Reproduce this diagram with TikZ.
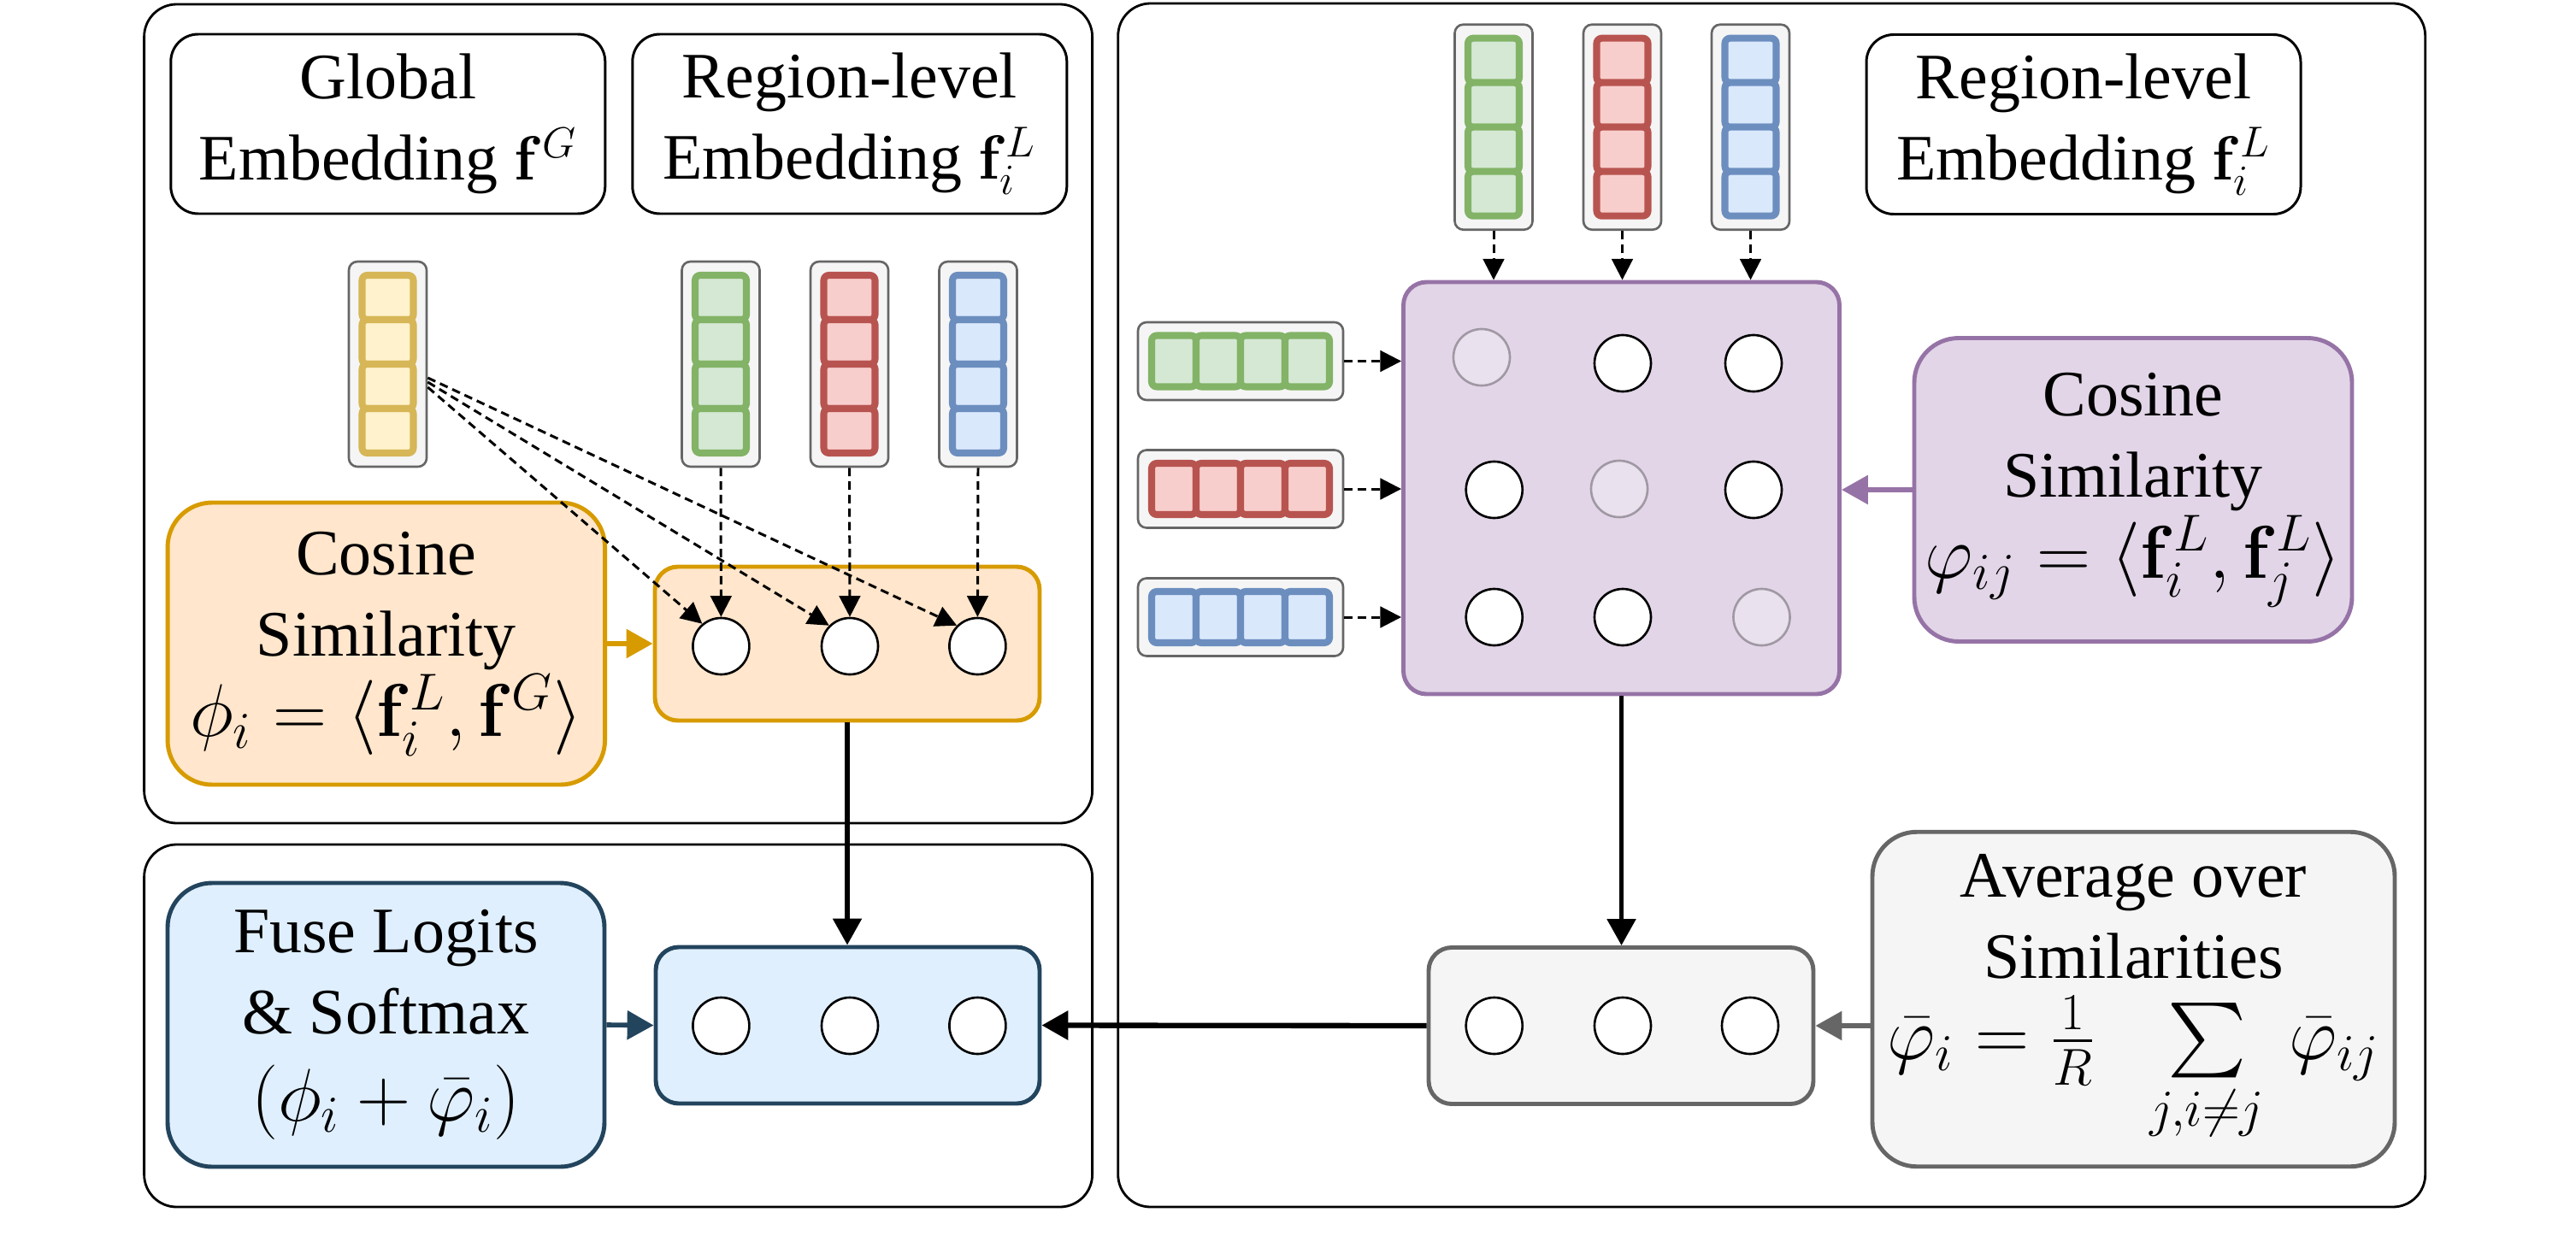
\documentclass[tikz,border=0pt]{standalone}
\usepackage[no-math]{fontspec}
\setmainfont{Liberation Serif}
\usepackage{amsmath}
\usetikzlibrary{arrows.meta,calc}

\definecolor{orfill}{HTML}{FFE6CC}
\definecolor{orline}{HTML}{D79B00}
\definecolor{pufill}{HTML}{E1D5E7}
\definecolor{puline}{HTML}{9673A6}
\definecolor{grfill}{HTML}{F5F5F5}
\definecolor{grline}{HTML}{666666}
\definecolor{bufill}{HTML}{DFEFFE}
\definecolor{buline}{HTML}{23445D}
\definecolor{yfill}{HTML}{FFF2CC}
\definecolor{yline}{HTML}{D6B656}
\definecolor{gfill}{HTML}{D5E8D4}
\definecolor{gline}{HTML}{82B366}
\definecolor{rfill}{HTML}{F8CECC}
\definecolor{rline}{HTML}{B85450}
\definecolor{bfill}{HTML}{DAE8FC}
\definecolor{bline}{HTML}{6C8EBF}
\newcommand{\mbig}{\fontsize{24.2}{27}\selectfont}

\begin{document}
\begin{tikzpicture}[font=\fontsize{21.6}{27}\selectfont, line join=round,
    >={Triangle[length=8.8pt,width=9.4pt]}]
	\tikzset{panel/.style={draw, line width=0.8pt, rounded corners=0.38cm, inner sep=0},
		lbl/.style={draw, line width=0.85pt, rounded corners=0.32cm, align=center, inner sep=0,
			minimum width=5.08cm, minimum height=2.1cm},
		bigbox/.style={line width=1.4pt, rounded corners=0.52cm, align=center, inner sep=0},
		holder/.style={line width=1.4pt, rounded corners=0.27cm, inner sep=0},
		vbg/.style={draw=grline, fill=grfill, line width=0.75pt, rounded corners=0.1cm, inner sep=0},
		cell/.style={line width=2.3pt, rounded corners=0.06cm, inner sep=0},
		circ/.style={circle, draw, fill=white, line width=0.75pt, minimum size=0.66cm, inner sep=0},
		fade/.style={circ, opacity=0.3},
		karr/.style={->, line width=1.5pt},
		carr/.style={->, line width=1.6pt},
		darr/.style={-{Triangle[length=7pt,width=7pt]}, line width=0.85pt, dash pattern=on 2.8pt off 1.7pt}}
	\tikzset{vcol/.pic={
			\node[vbg, minimum width=0.91cm, minimum height=2.4cm] (-bg) {};
			\foreach \k in {0,...,3}
			\node[cell, minimum width=0.6cm, minimum height=0.52cm] at (0,0.78-0.52*\k) {};}}
	\tikzset{hrow/.pic={
			\node[vbg, minimum width=2.4cm, minimum height=0.91cm] (-bg) {};
			\foreach \k in {0,...,3}
			\node[cell, minimum width=0.52cm, minimum height=0.6cm] at (-0.78+0.52*\k,0) {};}}
	\useasboundingbox (0,0) rectangle (30.13,-14.46);
	% panels
	\node[panel, minimum width=11.09cm, minimum height=9.58cm] (pTL) at (7.231,-4.84) {};
	\node[panel, minimum width=11.09cm, minimum height=4.24cm] (pBL) at (7.231,-12.0) {};
	\node[panel, minimum width=15.29cm, minimum height=14.08cm] (pR) at (20.722,-7.08) {};
	% titles
	\node[lbl] (gEmb) at (4.538,-1.45) {Global\\Embedding $\mathbf{f}^G$};
	\node[lbl] (rEmbA) at (9.938,-1.45) {Region-level\\Embedding $\mathbf{f}_i^L$};
	\node[lbl] (rEmbB) at (24.37,-1.455) {Region-level\\Embedding $\mathbf{f}_i^L$};
	% embeddings
	\pic[cell/.append style={fill=yfill,draw=yline}] (vY) at (4.535,-4.26) {vcol};
	\pic[cell/.append style={fill=gfill,draw=gline}] (vGa) at (8.43,-4.26) {vcol};
	\pic[cell/.append style={fill=rfill,draw=rline}] (vRa) at (9.935,-4.26) {vcol};
	\pic[cell/.append style={fill=bfill,draw=bline}] (vBa) at (11.44,-4.26) {vcol};
	\pic[cell/.append style={fill=gfill,draw=gline}] (vGb) at (17.47,-1.487) {vcol};
	\pic[cell/.append style={fill=rfill,draw=rline}] (vRb) at (18.975,-1.487) {vcol};
	\pic[cell/.append style={fill=bfill,draw=bline}] (vBb) at (20.475,-1.487) {vcol};
	\pic[cell/.append style={fill=gfill,draw=gline}] (hG) at (14.51,-4.225) {hrow};
	\pic[cell/.append style={fill=rfill,draw=rline}] (hR) at (14.51,-5.72) {hrow};
	\pic[cell/.append style={fill=bfill,draw=bline}] (hB) at (14.51,-7.22) {hrow};
	% similarity boxes
	\node[bigbox, draw=orline, fill=orfill, minimum width=5.115cm, minimum height=3.3cm] (cosO) at (4.518,-7.53)
	{Cosine\\Similarity\\\mbig$\phi_i = \langle \mathbf{f}_i^L, \mathbf{f}^G \rangle$};
	\node[bigbox, draw=buline, fill=bufill, minimum width=5.11cm, minimum height=3.32cm] (fuse) at (4.515,-11.99)
	{Fuse Logits\\\& Softmax\\[2pt]\mbig$\left(\phi_i + \bar{\varphi}_i\right)$};
	\node[bigbox, draw=puline, fill=pufill, minimum width=5.12cm, minimum height=3.55cm] (cosP) at (24.95,-5.73)
	{Cosine\\Similarity\\\mbig$\varphi_{ij} = \langle \mathbf{f}_i^L, \mathbf{f}_j^L \rangle$};
	\node[bigbox, draw=grline, fill=grfill, minimum width=6.11cm, minimum height=3.915cm] (avg) at (24.955,-11.69)
	{Average over\\Similarities\\\mbig$\bar{\varphi}_i = \frac{1}{R}\;\;\sum\limits_{j,i\neq j}\, \bar{\varphi}_{ij}$};
	% holders with circles
	\node[holder, draw=orline, fill=orfill, minimum width=4.5cm, minimum height=1.8cm] (boxO) at (9.91,-7.53) {};
	\node[holder, draw=buline, fill=bufill, minimum width=4.49cm, minimum height=1.83cm] (boxB) at (9.915,-11.995) {};
	\node[holder, draw=grline, fill=grfill, minimum width=4.5cm, minimum height=1.83cm] (boxG) at (18.96,-12.0) {};
	\node[holder, draw=puline, fill=pufill, minimum width=5.1cm, minimum height=4.82cm] (M) at (18.965,-5.71) {};
	\foreach \n/\x in {1/8.434,2/9.94,3/11.434} {
		\node[circ] (c\n) at (\x,-7.56) {};
		\node[circ] (d\n) at (\x,-12.0) {};}
	\foreach \n/\x in {1/17.477,2/18.98,3/20.47}
	\node[circ] (e\n) at (\x,-12.0) {};
	\foreach \n/\x/\y/\s in {11/17.33/-4.18/fade, 12/18.98/-4.25/circ, 13/20.51/-4.25/circ,
		21/17.477/-5.73/circ, 22/18.94/-5.72/fade, 23/20.51/-5.73/circ,
		31/17.477/-7.22/circ, 32/18.98/-7.22/circ, 33/20.605/-7.22/fade}
	\node[\s] (m\n) at (\x,\y) {};
	% connectors
	\draw[carr, orline] (cosO.east) -- (boxO.west);
	\draw[carr, buline] (fuse.east) -- (boxB.west);
	\draw[carr, puline] (cosP.west) -- (cosP.west -| M.east);
	\draw[carr, grline] (avg.west |- boxG.east) -- (boxG.east);
	\draw[karr] (boxO.south) -- (boxO.south |- boxB.north);
	\draw[karr] (M.south) -- (M.south |- boxG.north);
	\draw[karr, line width=1.8pt] (boxG.west) -- (boxB.east);
	\draw[darr] ($(vY-bg.east)+(0,-0.27)$) -- (c1.130);
	\draw[darr] ($(vY-bg.east)+(0,-0.21)$) -- (c2.135);
	\draw[darr] ($(vY-bg.east)+(0,-0.16)$) -- (c3.135);
	\foreach \v/\c in {vGa/c1, vRa/c2, vBa/c3}
	\draw[darr] (\v-bg.south) -- (\c.north);
	\foreach \v in {vGb, vRb, vBb}
	\draw[darr] (\v-bg.south) -- (\v-bg.south |- M.north);
	\foreach \v in {hG, hR, hB}
	\draw[darr] (\v-bg.east) -- (\v-bg.east -| M.west);
\end{tikzpicture}
\end{document}
